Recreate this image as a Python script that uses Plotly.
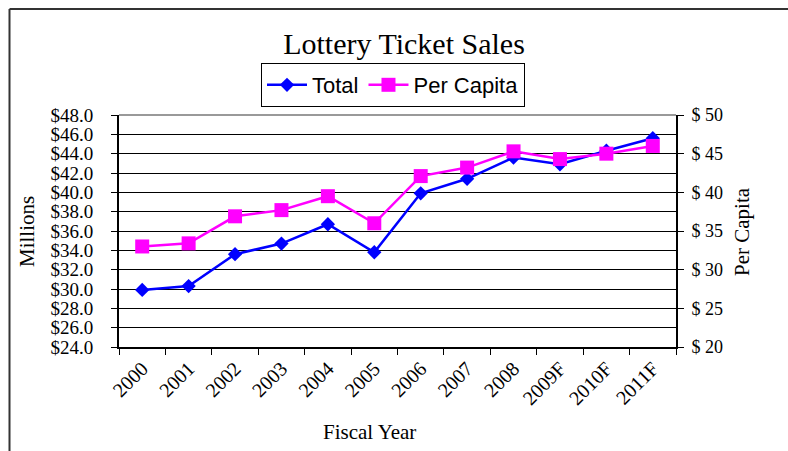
import plotly.graph_objects as go

years = ["2000", "2001", "2002", "2003", "2004", "2005", "2006", "2007", "2008", "2009F", "2010F", "2011F"]
total_millions = [29.9, 30.3, 33.6, 34.7, 36.7, 33.8, 39.9, 41.4, 43.6, 42.9, 44.3, 45.6]
per_capita = [33.0, 33.4, 36.9, 37.7, 39.5, 36.0, 42.1, 43.2, 45.3, 44.3, 45.0, 46.0]

left_ticks = [24, 26, 28, 30, 32, 34, 36, 38, 40, 42, 44, 46, 48]
right_ticks = [20, 25, 30, 35, 40, 45, 50]

serif = "Liberation Serif, Times New Roman, serif"
sans = "Liberation Sans, Arial, sans-serif"

fig = go.Figure()
fig.add_trace(go.Scatter(
    x=years, y=total_millions, name="Total", mode="lines+markers",
    line=dict(color="#0000FF", width=2.5),
    marker=dict(symbol="diamond", size=11, color="#0000FF"),
    yaxis="y",
))
fig.add_trace(go.Scatter(
    x=years, y=per_capita, name="Per Capita", mode="lines+markers",
    line=dict(color="#FF00FF", width=2.5),
    marker=dict(symbol="square", size=14, color="#FF00FF"),
    yaxis="y2",
))

L, R, T, B = 119, 112, 115, 104
W, H = 788, 451
pw, ph = W - L - R, H - T - B

def px_x(px):
    return (px - L) / pw

def px_y(py):
    return (H - B - py) / ph

fig.update_layout(
    width=W, height=H,
    margin=dict(l=L, r=R, t=T, b=B, pad=0, autoexpand=False),
    paper_bgcolor="white", plot_bgcolor="white",
    title=dict(text="Lottery Ticket Sales", x=px_x(404), xref="paper", xanchor="center",
               y=1 - 43 / H, yref="container", yanchor="middle",
               font=dict(family=serif, size=30, color="black")),
    legend=dict(orientation="h", x=px_x(261), xanchor="left", y=px_y(63), yanchor="top",
                bordercolor="black", borderwidth=1, bgcolor="white",
                font=dict(family=sans, size=22, color="black"),
                itemwidth=40, tracegroupgap=0),
    xaxis=dict(type="category", range=[-0.5, 11.5], showline=True, linecolor="black", linewidth=2,
               ticks="outside", tickson="boundaries", ticklen=6, tickcolor="black",
               tickangle=-45, showgrid=False, zeroline=False,
               tickfont=dict(family=serif, size=20, color="black")),
    yaxis=dict(range=[24, 48], tickvals=left_ticks, ticktext=["$%.1f" % v for v in left_ticks],
               showline=True, linecolor="black", linewidth=2,
               ticks="outside", ticklen=6, tickcolor="black", ticklabelstandoff=14,
               showgrid=True, gridcolor="black", gridwidth=1, zeroline=False,
               tickfont=dict(family=serif, size=19, color="black")),
    yaxis2=dict(range=[20, 50], tickvals=right_ticks, ticktext=["$ %d" % v for v in right_ticks],
                overlaying="y", side="right",
                showline=True, linecolor="black", linewidth=2,
                ticks="outside", ticklen=6, tickcolor="black", ticklabelstandoff=4,
                showgrid=False, zeroline=False,
                tickfont=dict(family=serif, size=18, color="black")),
    annotations=[
        dict(text="Millions", x=px_x(27), y=px_y(231), xref="paper", yref="paper",
             showarrow=False, textangle=-90, xanchor="center", yanchor="middle",
             font=dict(family=serif, size=21, color="black")),
        dict(text="Per Capita", x=px_x(742), y=px_y(232), xref="paper", yref="paper",
             showarrow=False, textangle=-90, xanchor="center", yanchor="middle",
             font=dict(family=serif, size=21, color="black")),
        dict(text="Fiscal Year", x=px_x(369), y=px_y(432), xref="paper", yref="paper",
             showarrow=False, xanchor="center", yanchor="middle",
             font=dict(family=serif, size=21, color="black")),
    ],
    shapes=[
        dict(type="line", xref="paper", yref="paper", x0=px_x(9.5), x1=px_x(790), y0=px_y(9), y1=px_y(9),
             line=dict(color="#333333", width=2)),
        dict(type="line", xref="paper", yref="paper", x0=px_x(9.5), x1=px_x(9.5), y0=px_y(9), y1=px_y(455),
             line=dict(color="#333333", width=2)),
        dict(type="line", xref="paper", yref="paper", x0=0, x1=1, y0=1, y1=1,
             line=dict(color="#999999", width=2), layer="above"),
    ],
)

fig.write_html("out.html", config={"displayModeBar": False},
               post_script="document.body.style.margin='0';document.body.style.overflow='hidden';")
